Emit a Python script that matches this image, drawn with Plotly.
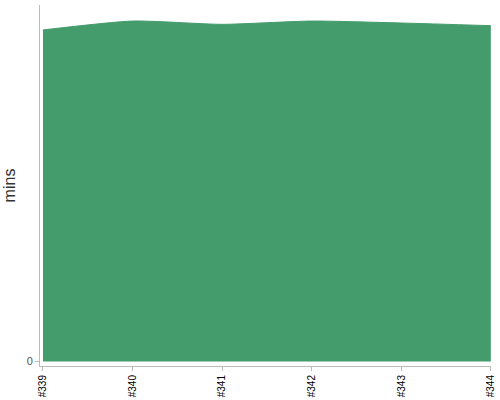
import plotly.graph_objects as go

categories = ["#339", "#340", "#341", "#342", "#343", "#344"]
values = [37.2, 38.2, 37.83, 38.2, 37.98, 37.68]

fig = go.Figure()
fig.add_trace(go.Scatter(
    x=list(range(len(categories))),
    y=values,
    mode="lines",
    fill="tozeroy",
    fillcolor="#449C6C",
    line=dict(color="#449C6C", width=1, shape="spline", smoothing=0.6),
    hoverinfo="skip",
))

fig.update_layout(
    width=500, height=400,
    margin=dict(l=40, r=9, t=5, b=34, autoexpand=False),
    paper_bgcolor="white", plot_bgcolor="white",
    showlegend=False,
    font=dict(family="Liberation Sans, Arial, sans-serif"),
)
fig.update_xaxes(
    range=[-0.033, 5.002],
    automargin=False,
    tickmode="array",
    tickvals=list(range(len(categories))),
    ticktext=categories,
    tickangle=-90,
    tickfont=dict(size=10, color="#000"),
    showgrid=False, zeroline=False,
    showline=True, linecolor="#bbb", linewidth=1,
    ticks="outside", ticklen=4, tickcolor="#bbb",
)
fig.update_yaxes(
    range=[-0.505, 40],
    automargin=False,
    tickmode="array", tickvals=[0], ticktext=["0"],
    tickfont=dict(size=11, color="#555"),
    showgrid=False, zeroline=False,
    showline=True, linecolor="#bbb", linewidth=1,
    ticks="outside", ticklen=4, tickcolor="#bbb",
    title=dict(text="mins", font=dict(size=16, color="#333"), standoff=7),
)

fig.write_html(
    "out.html",
    config={"displayModeBar": False},
    post_script="document.body.style.margin='0';document.body.style.padding='0';",
)
